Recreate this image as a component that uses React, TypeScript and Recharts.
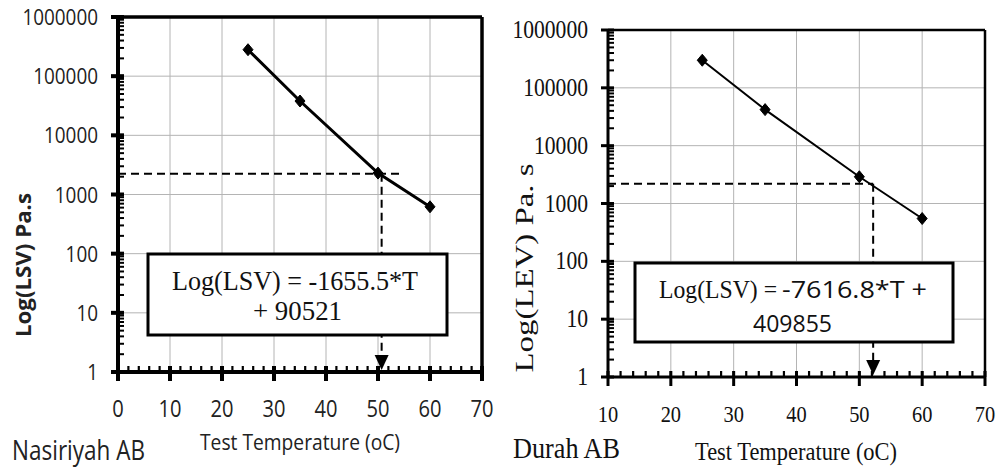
import React from 'react';
import { LineChart, Line, XAxis, YAxis, CartesianGrid, ReferenceLine, ReferenceDot } from 'recharts';

// ---- data ----
const leftTemps = [25, 35, 50, 60];
const leftLSV = [280000, 38000, 2300, 620];
const rightTemps = [25, 35, 50, 60];
const rightLEV = [300000, 42000, 2900, 550];

const leftXTicks = [0, 10, 20, 30, 40, 50, 60, 70];
const rightXTicks = [10, 20, 30, 40, 50, 60, 70];
const yTicks = [1, 10, 100, 1000, 10000, 100000, 1000000];

// reading guides
const leftGuideY = 2250;
const leftGuideX = 50.7;
const leftGuideXEnd = 54.6;
const rightGuideY = 2200;
const rightGuideX = 52.2;

// minor tick positions (axis decoration)
const stepRange = (a: number, b: number, step: number) => {
  const out: number[] = [];
  for (let v = a; v <= b + 1e-9; v += step) out.push(v);
  return out;
};
const leftMinorX = stepRange(0, 70, 2);
const rightMinorX = stepRange(10, 70, 2);
const minorY: number[] = [];
[1, 10, 100, 1000, 10000, 100000].forEach((d) => {
  [2, 3, 4, 5, 6, 7, 8, 9].forEach((m) => minorY.push(d * m));
});

const leftData = leftTemps.map((t, i) => ({ t, v: leftLSV[i] }));
const rightData = rightTemps.map((t, i) => ({ t, v: rightLEV[i] }));

const SANS = "'Open Sans', sans-serif";
const SERIF = "'Liberation Serif', 'Times New Roman', serif";

type Panel = { left: number; x0: number; x1: number; y0: number; y1: number; xMin: number; xMax: number; axisW: number; borderW: number };
const LP: Panel = { left: 0, x0: 118, x1: 482, y0: 17, y1: 372, xMin: 0, xMax: 70, axisW: 4, borderW: 3.5 };
const RP: Panel = { left: 500, x0: 608, x1: 985, y0: 30, y1: 377, xMin: 10, xMax: 70, axisW: 3, borderW: 2.5 };

const makeDiamond = (w: number, h: number) => (p: any) => {
  const { cx, cy, index } = p;
  if (cx == null || cy == null) return <g key={index} />;
  return (
    <path key={index} d={`M${cx},${cy - h}L${cx + w},${cy}L${cx},${cy + h}L${cx - w},${cy}Z`}
      fill="#000" stroke="#000" strokeWidth={1} />
  );
};

const arrowShape = (p: any) => {
  const { cx, cy } = p;
  return <path d={`M${cx - 7},${cy - 17}L${cx + 7},${cy - 17}L${cx},${cy - 2}Z`} fill="#000" />;
};

type LabelCfg = { font: string; size: number; charW: number; fill: string };

const makeXTick = (c: LabelCfg) => (p: any) => {
  const s = String(p.payload.value);
  return (
    <text x={p.x} y={Number(p.y) + 45} textAnchor="middle" fontFamily={c.font} fontSize={c.size} fill={c.fill}
      textLength={s.length * c.charW} lengthAdjust="spacingAndGlyphs">{s}</text>
  );
};
const makeYTick = (c: LabelCfg) => (p: any) => {
  const s = String(p.payload.value);
  return (
    <text x={Number(p.x) - 20} y={Number(p.y) + 8} textAnchor="end" fontFamily={c.font} fontSize={c.size} fill={c.fill}
      textLength={s.length * c.charW} lengthAdjust="spacingAndGlyphs">{s}</text>
  );
};

function Panel({ P, data, xTicks, lineW, guideX, guideXEnd, guideY, xCfg, yCfg }: any) {
  return (
    <LineChart width={500} height={468} data={data}
      margin={{ top: P.y0, right: P.left + 500 - P.x1, bottom: 0, left: 0 }}>
      <CartesianGrid stroke="#b4b4b4" strokeWidth={1} />
      <ReferenceLine segment={[{ x: P.xMin, y: guideY }, { x: guideXEnd, y: guideY }]}
        stroke="#000" strokeWidth={2} strokeDasharray="8 5" ifOverflow="visible" />
      <ReferenceLine segment={[{ x: guideX, y: guideY }, { x: guideX, y: 1.3 }]}
        stroke="#000" strokeWidth={2} strokeDasharray="8 5" ifOverflow="visible" />
      <ReferenceDot x={guideX} y={1} r={1} ifOverflow="visible" shape={arrowShape} />
      <XAxis dataKey="t" type="number" domain={[P.xMin, P.xMax]} ticks={xTicks} allowDataOverflow interval={0}
        height={468 - P.y1} tickSize={0} tickMargin={0} axisLine={false} tickLine={false} tick={makeXTick(xCfg)} />
      <YAxis type="number" scale="log" domain={[1, 1000000]} ticks={yTicks} allowDataOverflow interval={0}
        width={P.x0 - P.left} tickSize={0} tickMargin={0} axisLine={false} tickLine={false} tick={makeYTick(yCfg)} />
      <Line dataKey="v" stroke="#000" strokeWidth={lineW} isAnimationActive={false} dot={makeDiamond(5, 6)} activeDot={false} />
    </LineChart>
  );
}

// frame and tick marks of one panel (decoration only)
function Frame({ P, majorX, minorX }: { P: Panel; majorX: number[]; minorX: number[] }) {
  const sx = (v: number) => P.x0 + ((v - P.xMin) / (P.xMax - P.xMin)) * (P.x1 - P.x0);
  const sy = (v: number) => P.y1 - (Math.log10(v) / 6) * (P.y1 - P.y0);
  return (
    <g>
      {minorX.map((v) => <line key={`mx${v}`} x1={sx(v)} x2={sx(v)} y1={P.y1} y2={P.y1 - 6} stroke="#000" strokeWidth={2.2} />)}
      {minorY.map((v) => <line key={`my${v}`} x1={P.x0} x2={P.x0 + 6} y1={sy(v)} y2={sy(v)} stroke="#000" strokeWidth={2} />)}
      {majorX.map((v) => <line key={`Mx${v}`} x1={sx(v)} x2={sx(v)} y1={P.y1 - 6} y2={P.y1 + 9} stroke="#000" strokeWidth={P.axisW} />)}
      {yTicks.map((v) => <line key={`My${v}`} x1={P.x0 - 7} x2={P.x0 + 6} y1={sy(v)} y2={sy(v)} stroke="#000" strokeWidth={P.axisW} />)}
      <line x1={P.x0} x2={P.x1} y1={P.y0} y2={P.y0} stroke="#000" strokeWidth={P.borderW} />
      <line x1={P.x1} x2={P.x1} y1={P.y0} y2={P.y1} stroke="#000" strokeWidth={P.borderW} />
      <line x1={P.x0} x2={P.x0} y1={P.y0 - 1} y2={P.y1 + 1} stroke="#000" strokeWidth={P.axisW} />
      <line x1={P.x0 - 1} x2={P.x1 + 1} y1={P.y1} y2={P.y1} stroke="#000" strokeWidth={P.axisW} />
    </g>
  );
}

function Overlay() {
  return (
    <svg width={1000} height={468} style={{ position: 'absolute', left: 0, top: 0, pointerEvents: 'none' }}>
      <Frame P={LP} majorX={leftXTicks} minorX={leftMinorX} />
      <Frame P={RP} majorX={rightXTicks} minorX={rightMinorX} />

      <text transform="translate(31,265) rotate(-90)" textAnchor="middle" fontFamily={SANS} fontWeight="bold"
        fontSize={21} fill="#222" textLength={144} lengthAdjust="spacingAndGlyphs">Log(LSV) Pa.s</text>
      <text x={300} y={450} textAnchor="middle" fontFamily={SANS} fontSize={22} fill="#222"
        textLength={200} lengthAdjust="spacingAndGlyphs">Test Temperature (oC)</text>
      <text x={12} y={460} fontFamily={SANS} fontSize={28} fill="#222"
        textLength={133} lengthAdjust="spacingAndGlyphs">Nasiriyah AB</text>
      <rect x={148} y={254} width={299} height={81} fill="#fff" stroke="#000" strokeWidth={3} />
      <text x={295} y={290} textAnchor="middle" fontFamily={SERIF} fontSize={27} fill="#111"
        textLength={246} lengthAdjust="spacingAndGlyphs">Log(LSV) = -1655.5*T</text>
      <text x={297.5} y={320} textAnchor="middle" fontFamily={SERIF} fontSize={27} fill="#111"
        textLength={89} lengthAdjust="spacingAndGlyphs">+ 90521</text>

      <text transform="translate(533,268) rotate(-90)" textAnchor="middle" fontFamily={SERIF}
        fontSize={25} fill="#111" textLength={209} lengthAdjust="spacingAndGlyphs">Log(LEV) Pa. s</text>
      <text x={513} y={458} fontFamily={SERIF} fontSize={30} fill="#111"
        textLength={107} lengthAdjust="spacingAndGlyphs">Durah AB</text>
      <text x={796} y={460} textAnchor="middle" fontFamily={SERIF} fontSize={25} fill="#111"
        textLength={202} lengthAdjust="spacingAndGlyphs">Test Temperature (oC)</text>
      <rect x={635} y={263} width={318} height={79} fill="#fff" stroke="#000" strokeWidth={3} />
      <text x={659} y={298} fontFamily={SERIF} fontSize={26} fill="#111"
        textLength={118} lengthAdjust="spacingAndGlyphs">Log(LSV) =</text>
      <text x={782} y={298} fontFamily={SANS} fontSize={23} fill="#111"
        textLength={145} lengthAdjust="spacingAndGlyphs">-7616.8*T +</text>
      <text x={792.5} y={332} textAnchor="middle" fontFamily={SANS} fontSize={23} fill="#111"
        textLength={79} lengthAdjust="spacingAndGlyphs">409855</text>
    </svg>
  );
}

const leftXCfg: LabelCfg = { font: SANS, size: 23, charW: 11.5, fill: '#222' };
const leftYCfg: LabelCfg = { font: SANS, size: 22, charW: 10.8, fill: '#222' };
const rightXCfg: LabelCfg = { font: SERIF, size: 23, charW: 10.2, fill: '#111' };
const rightYCfg: LabelCfg = { font: SERIF, size: 25, charW: 10.8, fill: '#111' };

export default function App() {
  return (
    <div style={{ position: 'absolute', left: 0, top: 0, width: 1000, height: 468, background: '#fff', overflow: 'hidden' }}>
      <div style={{ position: 'absolute', left: 0, top: 0 }}>
        <Panel P={LP} data={leftData} xTicks={leftXTicks} lineW={3} guideX={leftGuideX} guideXEnd={leftGuideXEnd}
          guideY={leftGuideY} xCfg={leftXCfg} yCfg={leftYCfg} />
      </div>
      <div style={{ position: 'absolute', left: 500, top: 0 }}>
        <Panel P={RP} data={rightData} xTicks={rightXTicks} lineW={2} guideX={rightGuideX} guideXEnd={52.2}
          guideY={rightGuideY} xCfg={rightXCfg} yCfg={rightYCfg} />
      </div>
      <Overlay />
    </div>
  );
}
